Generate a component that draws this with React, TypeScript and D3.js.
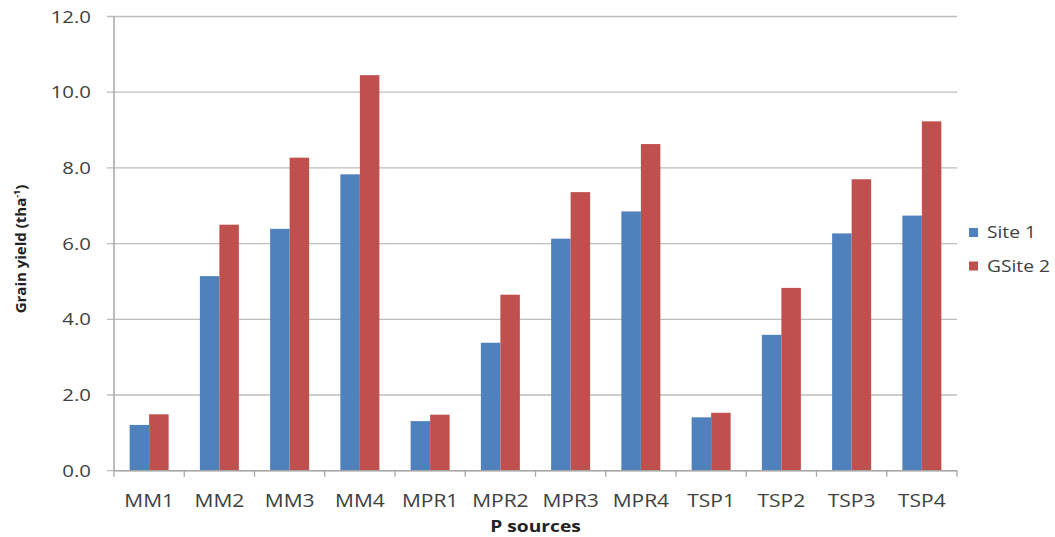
import React from "react";
import * as d3 from "d3";

const categories = ["MM1", "MM2", "MM3", "MM4", "MPR1", "MPR2", "MPR3", "MPR4", "TSP1", "TSP2", "TSP3", "TSP4"];
const site1 = [1.21, 5.14, 6.39, 7.83, 1.31, 3.38, 6.13, 6.85, 1.41, 3.59, 6.27, 6.74];
const site2 = [1.49, 6.5, 8.27, 10.45, 1.48, 4.65, 7.36, 8.63, 1.53, 4.83, 7.7, 9.23];
const seriesNames = ["Site 1", "GSite 2"];
const seriesColors = ["#4F81BD", "#C0504D"];
const yTicks = [0, 2, 4, 6, 8, 10, 12];

const W = 1055;
const H = 537;
const left = 114;
const right = 957;
const top = 16.5;
const bottom = 470.7;
const SX = 1.2;
const FONT = "'Open Sans', sans-serif";
const TEXT = "#404040";

export default function App() {
  const x = d3.scaleBand<string>().domain(categories).range([left, right]).paddingInner(0).paddingOuter(0);
  const y = d3.scaleLinear().domain([0, 12]).range([bottom, top]);
  const bw = x.bandwidth();
  const barW = (bw * 0.555) / 2;
  const series = [site1, site2];

  return (
    <svg width={W} height={H} style={{ position: "absolute", left: 0, top: 0, background: "#fff" }}>
      {/* gridlines */}
      {yTicks.map((t) => (
        <line key={"g" + t} x1={left - 7} x2={right} y1={y(t)} y2={y(t)} stroke="#BDBDBD" strokeWidth={1.3} />
      ))}
      {/* y axis */}
      <line x1={left} x2={left} y1={top} y2={bottom} stroke="#A6A6A6" strokeWidth={1.5} />
      {/* bars */}
      {series.map((s, si) =>
        s.map((v, i) => {
          const cx = (x(categories[i]) as number) + bw / 2;
          const x0 = cx - barW + si * barW;
          return (
            <rect key={si + "-" + i} x={x0} y={y(v)} width={barW} height={bottom - y(v)} fill={seriesColors[si]} />
          );
        })
      )}
      {/* x axis */}
      <line x1={left} x2={right} y1={bottom} y2={bottom} stroke="#A6A6A6" strokeWidth={1.5} />
      {categories.map((c, i) => (
        <line key={"xt" + i} x1={x(c) as number} x2={x(c) as number} y1={bottom} y2={bottom + 6} stroke="#A6A6A6" strokeWidth={1.3} />
      ))}
      <line x1={right} x2={right} y1={bottom} y2={bottom + 6} stroke="#A6A6A6" strokeWidth={1.3} />
      {/* y tick labels */}
      {yTicks.map((t) => (
        <text
          key={"yl" + t}
          transform={`translate(91,${y(t) + 6}) scale(${SX},1)`}
          textAnchor="end"
          fontFamily={FONT}
          fontSize={17}
          fill={TEXT}
        >
          {t.toFixed(1)}
        </text>
      ))}
      {/* x tick labels */}
      {categories.map((c) => (
        <text
          key={"xl" + c}
          transform={`translate(${(x(c) as number) + bw / 2},507) scale(${SX},1)`}
          textAnchor="middle"
          fontFamily={FONT}
          fontSize={17.5}
          fill={TEXT}
        >
          {c}
        </text>
      ))}
      {/* x title */}
      <text
        transform={`translate(${(left + right) / 2},532) scale(${SX},1)`}
        textAnchor="middle"
        fontFamily={FONT}
        fontSize={16}
        fontWeight="bold"
        fill="#222"
      >
        P sources
      </text>
      {/* y title */}
      <text
        transform={`translate(26,249) rotate(-90)`}
        textAnchor="middle"
        fontFamily={FONT}
        fontSize={15}
        fontWeight="bold"
        fill="#222"
      >
        Grain yield (tha
        <tspan fontSize={9} dy={-6}>-1</tspan>
        <tspan dy={6}>)</tspan>
      </text>
      {/* legend */}
      {seriesNames.map((n, i) => (
        <g key={"lg" + n}>
          <rect x={969} y={228 + i * 33.5} width={9} height={9} fill={seriesColors[i]} />
          <text
            transform={`translate(987,${237.5 + i * 34}) scale(${SX},1)`}
            fontFamily={FONT}
            fontSize={16}
            fill={TEXT}
          >
            {n}
          </text>
        </g>
      ))}
    </svg>
  );
}
